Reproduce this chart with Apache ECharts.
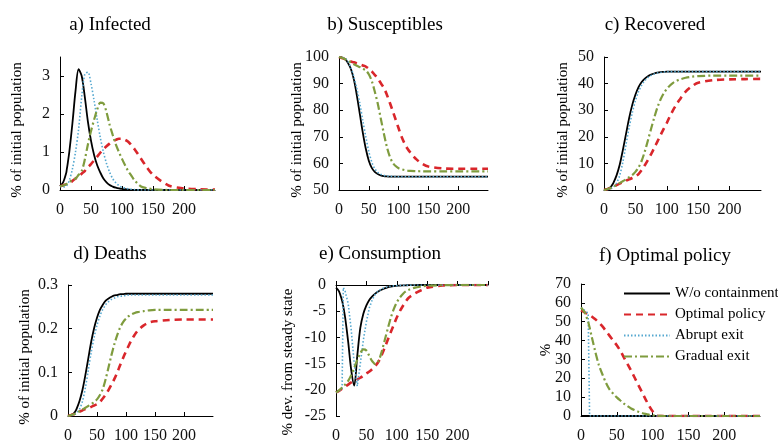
<!DOCTYPE html>
<html>
<head>
<meta charset="utf-8">
<script src="https://cdn.jsdelivr.net/npm/echarts@6/dist/echarts.min.js"></script>
<style>
  html, body { margin: 0; padding: 0; background: #fff; }
  #chart { width: 778px; height: 444px; }
</style>
</head>
<body>
<div id="chart"></div>
<script>
// days since start of epidemic (shared x grid)
const days = [0,5,10,11,12,15,20,25,30,35,40,45,50,55,60,65,70,75,80,85,90,95,100,105,110,115,120,130,140,150,175,200,225,250];
const seriesNames = ['W/o containment', 'Optimal policy', 'Abrupt exit', 'Gradual exit'];

// a) Infected
const infNone    = [0.1,0.2,0.45,0.55,0.65,1.0,1.75,2.6,3.18,3.0,2.45,1.8,1.3,0.92,0.65,0.46,0.3,0.2,0.13,0.09,0.06,0.04,0.03,0.02,0.01,0,0,0,0,0,0,0,0,0];
const infOptimal = [0.1,0.12,0.15,0.15,0.16,0.17,0.24,0.3,0.36,0.43,0.5,0.6,0.68,0.78,0.88,0.98,1.07,1.15,1.22,1.28,1.32,1.35,1.35,1.32,1.27,1.18,1.08,0.84,0.6,0.4,0.12,0.04,0.02,0.01];
const infAbrupt  = [0.1,0.08,0.1,0.12,0.14,0.25,0.55,1.0,1.6,2.45,3.05,3.1,2.8,2.35,1.85,1.38,1.0,0.7,0.47,0.3,0.19,0.12,0.07,0.05,0.03,0.02,0.01,0,0,0,0,0,0,0];
const infGradual = [0.1,0.12,0.15,0.16,0.17,0.2,0.27,0.3,0.4,0.5,0.8,1.2,1.55,1.85,2.12,2.3,2.28,2.05,1.72,1.45,1.2,1.0,0.82,0.65,0.5,0.38,0.26,0.1,0.05,0.02,0,0,0,0];

// b) Susceptibles
const susNone    = [100,99.8,99.2,99,98.8,97.8,95.5,91.5,85.5,78.5,71.5,65.5,61,58.3,56.8,56,55.5,55.2,55.1,55.05,55,55,55,55,55,55,55,55,55,55,55,55,55,55];
const susOptimal = [100,99.6,99.2,99.1,99,98.7,98.3,98,97.6,97.2,96.8,96.4,95.6,94.6,93.3,92,90.2,88.5,86,83,79.8,76.5,73.2,70,67.5,65.5,64,61.5,59.8,58.8,58.1,58,58,58];
const susAbrupt  = [100,99.9,99.5,99.4,99.2,98.3,96,92.5,88,82.5,76,70,64.5,60.5,58,56.6,55.9,55.5,55.3,55.15,55.1,55.05,55,55,55,55,55,55,55,55,55,55,55,55];
const susGradual = [100,99.7,99.2,99.1,99,98.7,98,97.3,96.7,96.2,95.6,95,93.5,91,87,82.5,77,71.5,66.5,62.7,60.3,59,58.2,57.8,57.5,57.3,57.2,57.1,57,57,57,57,57,57];

// c) Recovered
const recNone    = [0,0.3,1,1.2,1.5,2.7,5.5,9.5,15,21,27,32,35.8,38.7,40.6,41.9,42.8,43.4,43.8,44.1,44.3,44.4,44.5,44.5,44.5,44.5,44.5,44.5,44.5,44.5,44.5,44.5,44.5,44.5];
const recOptimal = [0,0.3,0.7,0.8,0.9,1.2,1.8,2.4,3,3.5,4,4.5,5.1,6,7.5,9.3,11.3,13.5,15.8,18.2,20.6,23,25.2,27.8,30,32,33.8,37,39,40.3,41.3,41.6,41.7,41.8];
const recAbrupt  = [0,0.1,0.4,0.5,0.6,1.1,2.6,5.5,10.5,17,23.5,29,33.6,37,39.4,41.1,42.3,43.1,43.6,44,44.2,44.35,44.45,44.5,44.5,44.5,44.5,44.5,44.5,44.5,44.5,44.5,44.5,44.5];
const recGradual = [0,0.3,0.7,0.8,0.9,1.2,1.9,2.6,3.3,4,4.8,5.6,6.8,8.5,11,14.5,18.7,23,27.2,31,34,36.3,38,39.3,40.3,41,41.5,42.2,42.6,42.8,43,43,43,43];

// d) Deaths
const dthNone    = [0,0.002,0.006,0.008,0.009,0.017,0.035,0.06,0.094,0.132,0.17,0.201,0.225,0.243,0.255,0.264,0.269,0.273,0.276,0.277,0.279,0.279,0.28,0.28,0.28,0.28,0.28,0.28,0.28,0.28,0.28,0.28,0.28,0.28];
const dthOptimal = [0,0.002,0.004,0.004,0.005,0.006,0.01,0.013,0.016,0.018,0.021,0.024,0.027,0.032,0.04,0.049,0.06,0.072,0.085,0.1,0.117,0.133,0.148,0.162,0.175,0.186,0.195,0.207,0.214,0.217,0.22,0.221,0.221,0.221];
const dthAbrupt  = [0,0.001,0.002,0.003,0.004,0.007,0.016,0.034,0.065,0.105,0.146,0.18,0.208,0.229,0.244,0.255,0.262,0.267,0.27,0.273,0.274,0.275,0.276,0.277,0.277,0.277,0.277,0.277,0.277,0.277,0.277,0.277,0.277,0.277];
const dthGradual = [0,0.002,0.004,0.004,0.005,0.007,0.011,0.015,0.019,0.023,0.027,0.032,0.038,0.048,0.062,0.085,0.112,0.14,0.165,0.186,0.203,0.215,0.223,0.229,0.233,0.236,0.238,0.24,0.242,0.243,0.243,0.243,0.243,0.243];

// e) Consumption
const conNone    = [-0.5,-1.2,-3,-3.5,-4.1,-6.2,-10.8,-16.2,-19.2,-13.5,-8.2,-5.5,-3.9,-2.8,-2.1,-1.6,-1.2,-0.9,-0.65,-0.45,-0.3,-0.2,-0.15,-0.1,-0.07,-0.05,-0.03,-0.01,0,0,0,0,0,0];
const conOptimal = [-20.5,-20.2,-19.8,-19.7,-19.6,-19.4,-19,-18.6,-18.3,-18,-17.7,-17.3,-16.9,-16.5,-16,-15.4,-14.6,-13.4,-12,-10.5,-9,-7.6,-6.2,-5,-4,-3.1,-2.4,-1.6,-1,-0.5,-0.1,0,0,0];
const conAbrupt  = [-20.5,-20.2,-19.8,-19.7,-0.5,-1.2,-3.5,-8.5,-15,-19.3,-15,-10.5,-7,-4.3,-2.7,-1.7,-1.1,-0.75,-0.5,-0.35,-0.25,-0.17,-0.12,-0.08,-0.05,-0.03,-0.02,-0.01,0,0,0,0,0,0];
const conGradual = [-20.5,-20.1,-19.6,-19.5,-19.3,-19,-18.3,-17.2,-15.8,-14.3,-13,-12.3,-12.5,-13.6,-14.6,-15.1,-14.5,-12.8,-10.6,-8.4,-6.3,-4.6,-3.3,-2.4,-1.7,-1.2,-0.9,-0.5,-0.3,-0.15,-0.03,0,0,0];

// f) Optimal policy (containment rate, %)
const polNone    = [0,0,0,0,0,0,0,0,0,0,0,0,0,0,0,0,0,0,0,0,0,0,0,0,0,0,0,0,0,0,0,0,0,0];
const polOptimal = [56,55,54,53.8,53.5,52.8,51.3,49.5,47.5,45,42.5,40,37.5,34.5,31,27.5,24,20.3,16.5,12.8,9,5.5,2.5,0.3,0,0,0,0,0,0,0,0,0,0];
const polAbrupt  = [57.5,56,54.5,54,0,0,0,0,0,0,0,0,0,0,0,0,0,0,0,0,0,0,0,0,0,0,0,0,0,0,0,0,0,0];
const polGradual = [57.5,55,50,48.5,47,42,34,27,22,17.5,14,11.8,9.9,8.2,6.6,5.2,4,3.1,2.3,1.6,1.1,0.7,0.4,0.2,0.1,0,0,0,0,0,0,0,0,0];

const lineStyles = [
  { color: '#000000', width: 1.8, type: 'solid' },
  { color: '#d9262b', width: 2.6, type: [7, 5] },
  { color: '#55a8d0', width: 1.6, type: [1.5, 2] },
  { color: '#7f9c3e', width: 2.2, type: [8, 3, 2, 3] }
];

const serif = 'Liberation Serif';

const panels = [
  { title: 'a) Infected', tx: 110, ty: 25, grid: { left: 60, top: 57, width: 155, height: 133 },
    y: { min: 0, max: 3.5, interval: 1, hideMax: true }, yName: '% of initial population', nx: 17, ny: 130,
    data: [infNone, infOptimal, infAbrupt, infGradual] },
  { title: 'b) Susceptibles', tx: 385, ty: 25, grid: { left: 339, top: 57, width: 149, height: 133 },
    y: { min: 50, max: 100, interval: 10 }, yName: '% of initial population', nx: 297, ny: 130,
    data: [susNone, susOptimal, susAbrupt, susGradual] },
  { title: 'c) Recovered', tx: 655, ty: 25, grid: { left: 604, top: 57, width: 157, height: 133 },
    y: { min: 0, max: 50, interval: 10 }, yName: '% of initial population', nx: 563, ny: 130,
    data: [recNone, recOptimal, recAbrupt, recGradual] },
  { title: 'd) Deaths', tx: 110, ty: 254, grid: { left: 68, top: 285, width: 145, height: 133 },
    y: { min: 0, max: 0.3, interval: 0.1 }, yName: '% of initial population', nx: 25, ny: 357,
    data: [dthNone, dthOptimal, dthAbrupt, dthGradual] },
  { title: 'e) Consumption', tx: 380, ty: 254, grid: { left: 336, top: 285, width: 152, height: 133 },
    y: { min: -25, max: 0, interval: 5 }, yName: '% dev. from steady state', nx: 288, ny: 362,
    data: [conNone, conOptimal, conAbrupt, conGradual], topAxis: true, sharp: [2] },
  { title: 'f) Optimal policy', tx: 665, ty: 256, grid: { left: 581, top: 284, width: 179, height: 138 },
    y: { min: 0, max: 70, interval: 10 }, yName: '%', nx: 546, ny: 350,
    data: [polNone, polOptimal, polAbrupt, polGradual], sharp: [2] }
];

const axisColor = '#000';
const labelStyle = { fontFamily: serif, fontSize: 16, color: '#111' };

const grids = [], xAxes = [], yAxes = [], series = [], graphics = [];

panels.forEach((p, gi) => {
  grids.push(Object.assign({ containLabel: false }, p.grid));

  let seriesX = xAxes.length;
  if (p.topAxis) {
    // line at y = 0 (top), labels at the bottom
    xAxes.push({ type: 'value', gridIndex: gi, position: 'top', min: 0, max: 250, interval: 50,
      axisLine: { show: true, onZero: false, lineStyle: { color: axisColor, width: 1 } },
      axisTick: { show: true, inside: false, length: 4, lineStyle: { color: axisColor } },
      axisLabel: { show: false }, splitLine: { show: false } });
    xAxes.push({ type: 'value', gridIndex: gi, position: 'bottom', min: 0, max: 250, interval: 50,
      axisLine: { show: false }, axisTick: { show: false },
      axisLabel: Object.assign({ margin: 12, showMaxLabel: false }, labelStyle), splitLine: { show: false } });
  } else {
    xAxes.push({ type: 'value', gridIndex: gi, min: 0, max: 250, interval: 50,
      axisLine: { show: true, onZero: false, lineStyle: { color: axisColor, width: 1 } },
      axisTick: { show: true, inside: true, length: 4, lineStyle: { color: axisColor } },
      axisLabel: Object.assign({ margin: 12, showMaxLabel: false }, labelStyle), splitLine: { show: false } });
  }

  yAxes.push({ type: 'value', gridIndex: gi, min: p.y.min, max: p.y.max, interval: p.y.interval,
    axisLine: { show: true, onZero: false, lineStyle: { color: axisColor, width: 1 } },
    axisTick: { show: true, inside: true, length: 4, lineStyle: { color: axisColor } },
    axisLabel: Object.assign({ margin: 10, showMaxLabel: !p.y.hideMax }, labelStyle),
    splitLine: { show: false } });
  const yi = yAxes.length - 1;

  p.data.forEach((arr, k) => {
    const sharp = (p.sharp || []).indexOf(k) >= 0;
    series.push({
      type: 'line', name: seriesNames[k], xAxisIndex: seriesX, yAxisIndex: yi,
      data: days.map((d, i) => [d, arr[i]]),
      showSymbol: false, symbol: 'none', smooth: sharp ? false : 0.3,
      lineStyle: Object.assign({}, lineStyles[k]), itemStyle: { color: lineStyles[k].color },
      emphasis: { disabled: true }, clip: true
    });
  });

  graphics.push({ type: 'text', x: p.tx, y: p.ty,
    style: { text: p.title, font: '19px "Liberation Serif"', fill: '#000', textAlign: 'center', textVerticalAlign: 'middle' } });
  graphics.push({ type: 'text', x: p.nx, y: p.ny, rotation: Math.PI / 2,
    style: { text: p.yName, font: '15px "Liberation Serif"', fill: '#000', textAlign: 'center', textVerticalAlign: 'middle' } });
});

const chart = echarts.init(document.getElementById('chart'), null, { renderer: 'canvas' });
chart.setOption({
  animation: false,
  backgroundColor: '#fff',
  grid: grids,
  xAxis: xAxes,
  yAxis: yAxes,
  legend: {
    data: seriesNames, orient: 'vertical', left: 618, top: 281,
    itemWidth: 46, itemHeight: 14, itemGap: 6,
    itemStyle: { opacity: 0 },
    textStyle: { fontFamily: serif, fontSize: 15, lineHeight: 14, color: '#000' },
    selectedMode: false
  },
  graphic: graphics,
  series: series
});
</script>
</body>
</html>
